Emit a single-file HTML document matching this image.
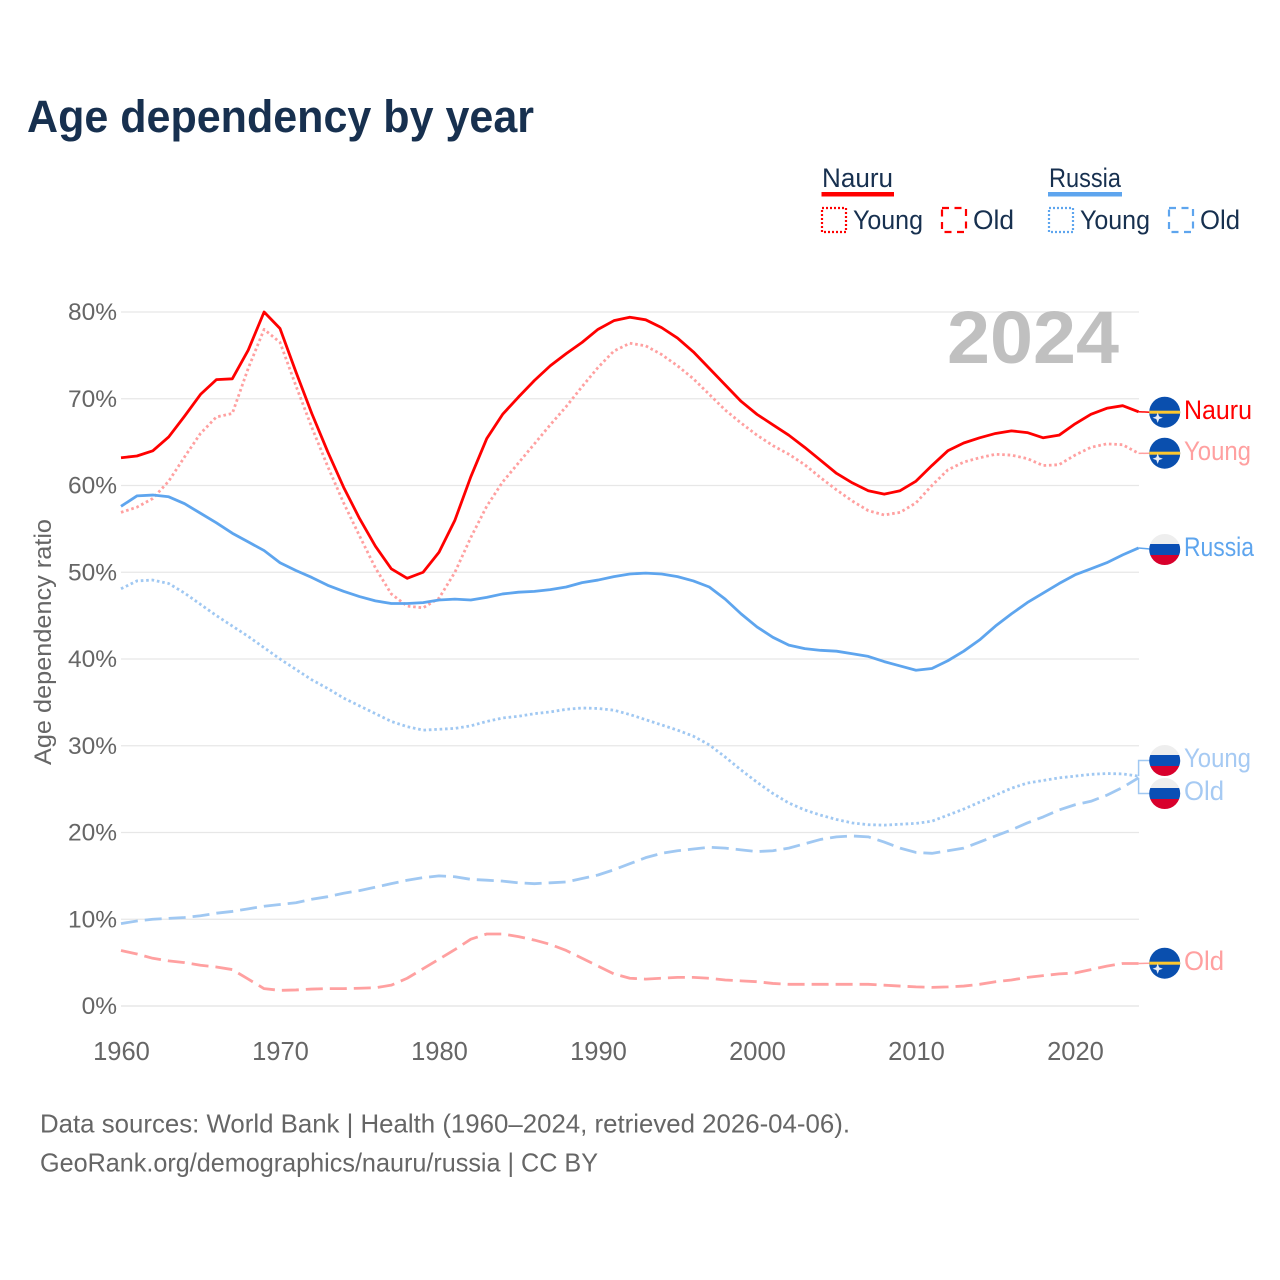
<!DOCTYPE html>
<html lang="en">
<head>
<meta charset="utf-8">
<title>Age dependency by year</title>
<style>
html,body{margin:0;padding:0;background:#fff}
svg{display:block}
text{font-family:"Liberation Sans",sans-serif}
</style>
</head>
<body>
<svg id="chart" width="1280" height="1280" viewBox="0 0 1280 1280" xmlns="http://www.w3.org/2000/svg">
<defs>
<clipPath id="flag-clip"><circle cx="0" cy="0" r="15.5"/></clipPath>
</defs>
<rect x="0" y="0" width="1280" height="1280" fill="#fff"/>
<text x="27" y="132" font-size="45" font-weight="700" fill="#17304f" textLength="507" lengthAdjust="spacingAndGlyphs">Age dependency by year</text>

<g font-size="27" fill="#17304f">
<text x="822" y="187" textLength="71" lengthAdjust="spacingAndGlyphs">Nauru</text>
<rect x="821.5" y="192" width="72.5" height="4.5" fill="#ff0000"/>
<rect x="822" y="208" width="24" height="24" fill="none" stroke="#ff0000" stroke-width="2.2" stroke-dasharray="2 2"/>
<text x="853" y="229" textLength="70" lengthAdjust="spacingAndGlyphs">Young</text>
<rect x="942" y="208" width="24" height="24" fill="none" stroke="#ff0000" stroke-width="2.2" stroke-dasharray="7 5.5"/>
<text x="973" y="229" textLength="41" lengthAdjust="spacingAndGlyphs">Old</text>
<text x="1049" y="187" textLength="72" lengthAdjust="spacingAndGlyphs">Russia</text>
<rect x="1048" y="192" width="74" height="4.5" fill="#5ea5ee"/>
<rect x="1049" y="208" width="24" height="24" fill="none" stroke="#5ea5ee" stroke-width="2.2" stroke-dasharray="2 2"/>
<text x="1080" y="229" textLength="70" lengthAdjust="spacingAndGlyphs">Young</text>
<rect x="1169" y="208" width="24" height="24" fill="none" stroke="#5ea5ee" stroke-width="2.2" stroke-dasharray="7 5.5"/>
<text x="1200" y="229" textLength="40" lengthAdjust="spacingAndGlyphs">Old</text>
</g>

<g id="grid"></g>
<g id="yticks"></g>
<g id="xticks"></g>
<text transform="translate(51,765) rotate(-90)" x="0" y="0" font-size="24" fill="#666" textLength="246" lengthAdjust="spacingAndGlyphs">Age dependency ratio</text>
<text x="947" y="363" font-size="74" font-weight="700" fill="#c0c0c0" textLength="172" lengthAdjust="spacingAndGlyphs">2024</text>

<g id="series"></g>
<g id="leaders"></g>

<g>
<g transform="translate(1164.7,412.2)" clip-path="url(#flag-clip)"><rect x="-16" y="-16" width="32" height="32" fill="#0a4fae"/><rect x="-16" y="-1.5" width="32" height="3" fill="#fdc82f"/><polygon points="-7,1.8 -6,4.5 -3.3,5.5 -6,6.5 -7,9.2 -8,6.5 -10.7,5.5 -8,4.5" fill="#e6ebf5" stroke="#e6ebf5" stroke-width="1"/></g>
<g transform="translate(1164.7,453.2)" clip-path="url(#flag-clip)"><rect x="-16" y="-16" width="32" height="32" fill="#0a4fae"/><rect x="-16" y="-1.5" width="32" height="3" fill="#fdc82f"/><polygon points="-7,1.8 -6,4.5 -3.3,5.5 -6,6.5 -7,9.2 -8,6.5 -10.7,5.5 -8,4.5" fill="#e6ebf5" stroke="#e6ebf5" stroke-width="1"/></g>
<g transform="translate(1164.7,963.2)" clip-path="url(#flag-clip)"><rect x="-16" y="-16" width="32" height="32" fill="#0a4fae"/><rect x="-16" y="-1.5" width="32" height="3" fill="#fdc82f"/><polygon points="-7,1.8 -6,4.5 -3.3,5.5 -6,6.5 -7,9.2 -8,6.5 -10.7,5.5 -8,4.5" fill="#e6ebf5" stroke="#e6ebf5" stroke-width="1"/></g>
<g transform="translate(1164.7,549.5)" clip-path="url(#flag-clip)"><rect x="-16" y="-16" width="32" height="32" fill="#eeeeee"/><rect x="-16" y="-5.5" width="32" height="11" fill="#0a4fb5"/><rect x="-16" y="5.5" width="32" height="11" fill="#d8002c"/></g>
<g transform="translate(1164.7,760.5)" clip-path="url(#flag-clip)"><rect x="-16" y="-16" width="32" height="32" fill="#eeeeee"/><rect x="-16" y="-5.5" width="32" height="11" fill="#0a4fb5"/><rect x="-16" y="5.5" width="32" height="11" fill="#d8002c"/></g>
<g transform="translate(1164.7,793.5)" clip-path="url(#flag-clip)"><rect x="-16" y="-16" width="32" height="32" fill="#eeeeee"/><rect x="-16" y="-5.5" width="32" height="11" fill="#0a4fb5"/><rect x="-16" y="5.5" width="32" height="11" fill="#d8002c"/></g>
</g>

<g font-size="27">
<text x="1184" y="419" fill="#ff0000" textLength="68" lengthAdjust="spacingAndGlyphs">Nauru</text>
<text x="1184" y="460" fill="#ffa0a0" textLength="67" lengthAdjust="spacingAndGlyphs">Young</text>
<text x="1184" y="556" fill="#5ea5ee" textLength="70" lengthAdjust="spacingAndGlyphs">Russia</text>
<text x="1184" y="767" fill="#a6caf3" textLength="67" lengthAdjust="spacingAndGlyphs">Young</text>
<text x="1184" y="800" fill="#a6caf3" textLength="40" lengthAdjust="spacingAndGlyphs">Old</text>
<text x="1184" y="970" fill="#ffa0a0" textLength="40" lengthAdjust="spacingAndGlyphs">Old</text>
</g>

<g font-size="26" fill="#666">
<text x="40" y="1132.5" textLength="810" lengthAdjust="spacingAndGlyphs">Data sources: World Bank | Health (1960–2024, retrieved 2026-04-06).</text>
<text x="40" y="1171.5" textLength="558" lengthAdjust="spacingAndGlyphs">GeoRank.org/demographics/nauru/russia | CC BY</text>
</g>
</svg>

<script>
const firstYear = 1960;
const xTickYears = [1960, 1970, 1980, 1990, 2000, 2010, 2020];
const yTickValues = [0, 10, 20, 30, 40, 50, 60, 70, 80];

const nauruTotal = [
  63.2, 63.4, 64.0, 65.6, 68.0, 70.5, 72.2, 72.3, 75.6, 80.0,
  78.1, 73.1, 68.3, 63.9, 59.8, 56.2, 53.0, 50.4, 49.3, 50.0,
  52.3, 56.0, 61.0, 65.4, 68.2, 70.2, 72.1, 73.8, 75.2, 76.5,
  78.0, 79.0, 79.4, 79.1, 78.2, 77.0, 75.4, 73.5, 71.6, 69.7,
  68.2, 67.0, 65.8, 64.4, 62.9, 61.4, 60.3, 59.4, 59.0, 59.4,
  60.5, 62.3, 64.0, 64.9, 65.5, 66.0, 66.3, 66.1, 65.5, 65.8,
  67.1, 68.2, 68.9, 69.2, 68.5
];
const nauruYoung = [
  56.9, 57.5, 58.5, 60.5, 63.3, 66.0, 67.9, 68.3, 73.5, 78.0,
  76.5, 71.5, 66.7, 62.2, 58.0, 54.2, 50.5, 47.5, 46.1, 45.9,
  47.0, 50.0, 54.0, 57.6, 60.4, 62.6, 64.8, 67.0, 69.1, 71.4,
  73.6, 75.5, 76.4, 76.1, 75.1, 73.8, 72.3, 70.5, 68.7, 67.2,
  65.8, 64.6, 63.6, 62.4, 60.9, 59.5, 58.2, 57.1, 56.6, 56.9,
  58.0, 60.0, 61.8, 62.7, 63.2, 63.6, 63.5, 63.1, 62.3, 62.4,
  63.5, 64.4, 64.8, 64.7, 63.7
];
const nauruOld = [
  6.4, 6.0, 5.5, 5.2, 5.0, 4.7, 4.5, 4.2, 3.1, 2.0,
  1.8, 1.85, 1.95, 2.0, 2.0, 2.05, 2.1, 2.4, 3.2, 4.3,
  5.4, 6.5, 7.7, 8.3, 8.3, 8.0, 7.6, 7.1, 6.4, 5.5,
  4.6, 3.7, 3.2, 3.1, 3.2, 3.3, 3.3, 3.2, 3.0, 2.9,
  2.8, 2.6, 2.5, 2.5, 2.5, 2.5, 2.5, 2.5, 2.4, 2.3,
  2.2, 2.15, 2.2, 2.3, 2.5, 2.8, 3.0, 3.3, 3.5, 3.7,
  3.8, 4.2, 4.6, 4.9, 4.9
];
const russiaTotal = [
  57.6, 58.8, 58.9, 58.7, 57.9, 56.8, 55.7, 54.5, 53.5, 52.5,
  51.1, 50.2, 49.4, 48.5, 47.8, 47.2, 46.7, 46.4, 46.4, 46.5,
  46.8, 46.9, 46.8, 47.1, 47.5, 47.7, 47.8, 48.0, 48.3, 48.8,
  49.1, 49.5, 49.8, 49.9, 49.8, 49.5, 49.0, 48.3, 46.9, 45.2,
  43.7, 42.5, 41.6, 41.2, 41.0, 40.9, 40.6, 40.3, 39.7, 39.2,
  38.7, 38.9, 39.8, 40.9, 42.2, 43.8, 45.2, 46.5, 47.6, 48.7,
  49.7, 50.4, 51.1, 52.0, 52.8
];
const russiaYoung = [
  48.1, 49.0, 49.1, 48.7, 47.6, 46.3, 45.0, 43.8, 42.6, 41.3,
  40.0, 38.8, 37.6, 36.6, 35.5, 34.6, 33.7, 32.8, 32.2, 31.8,
  31.9, 32.0, 32.3, 32.8, 33.2, 33.4, 33.7, 33.9, 34.2, 34.35,
  34.3, 34.1, 33.6, 33.0, 32.4, 31.8, 31.1, 30.1, 28.7, 27.2,
  25.8, 24.5, 23.4, 22.6, 22.0, 21.5, 21.1, 20.9, 20.85, 20.95,
  21.05, 21.3, 22.0, 22.7, 23.5, 24.3, 25.1, 25.7, 26.0, 26.3,
  26.5, 26.7, 26.8, 26.75, 26.5
];
const russiaOld = [
  9.5, 9.8, 10.0, 10.1, 10.2, 10.4, 10.7, 10.9, 11.2, 11.5,
  11.7, 11.9, 12.3, 12.6, 13.0, 13.3, 13.7, 14.1, 14.5, 14.8,
  15.0, 14.9, 14.6, 14.5, 14.4, 14.2, 14.1, 14.2, 14.3, 14.7,
  15.1, 15.7, 16.4, 17.1, 17.6, 17.9, 18.1, 18.3, 18.2, 18.0,
  17.8, 17.9, 18.2, 18.7, 19.2, 19.5, 19.6, 19.5, 18.9, 18.2,
  17.7, 17.6, 17.9, 18.2, 18.9, 19.6, 20.3, 21.1, 21.8, 22.6,
  23.2, 23.6, 24.3, 25.2, 26.3
];

const NS = 'http://www.w3.org/2000/svg';
function xScale(year) { return 121 + (year - 1960) * 15.9; }
function yScale(value) { return 1006 - value * 8.675; }

function linePath(values) {
  return values.map(function (v, i) {
    return (i ? 'L' : 'M') + xScale(firstYear + i).toFixed(2) + ' ' + yScale(v).toFixed(2);
  }).join(' ');
}

const grid = document.getElementById('grid');
const yticks = document.getElementById('yticks');
yTickValues.forEach(function (v) {
  const gl = document.createElementNS(NS, 'line');
  
  
  gl.setAttribute('x1', 121);
  gl.setAttribute('x2', 1139);
  gl.setAttribute('y1', yScale(v));
  gl.setAttribute('y2', yScale(v));
  gl.setAttribute('stroke', '#e7e7e7');
  gl.setAttribute('stroke-width', v === 0 ? 1.6 : 1.2);
  grid.appendChild(gl);

  const t = document.createElementNS(NS, 'text');
  
  
  t.setAttribute('x', 117);
  t.setAttribute('y', yScale(v) + 8);
  t.setAttribute('text-anchor', 'end');
  t.setAttribute('font-size', '24.5');
  t.setAttribute('fill', '#666');
  t.textContent = v + '%';
  yticks.appendChild(t);
});

const xticks = document.getElementById('xticks');
xTickYears.forEach(function (yr) {
  const t = document.createElementNS(NS, 'text');
  
  
  t.setAttribute('x', xScale(yr) + 0.5);
  t.setAttribute('y', 1060);
  t.setAttribute('text-anchor', 'middle');
  t.setAttribute('font-size', '25.5');
  t.setAttribute('fill', '#666');
  t.textContent = yr;
  xticks.appendChild(t);
});

const seriesGroup = document.getElementById('series');
function drawSeries(name, values, color, width, dash) {
  const p = document.createElementNS(NS, 'path');
  
  
  p.setAttribute('d', linePath(values));
  p.setAttribute('fill', 'none');
  p.setAttribute('stroke', color);
  p.setAttribute('stroke-width', width);
  p.setAttribute('stroke-linejoin', 'round');
  if (dash) p.setAttribute('stroke-dasharray', dash);
  seriesGroup.appendChild(p);
}
drawSeries('line-nauru-old', nauruOld, '#ffa0a0', 2.8, '17 7');
drawSeries('line-russia-old', russiaOld, '#a0c8f2', 2.8, '17 7');
drawSeries('line-russia-young', russiaYoung, '#a0c8f2', 2.8, '2.6 2.8');
drawSeries('line-nauru-young', nauruYoung, '#ffa0a0', 2.8, '2.6 2.8');
drawSeries('line-russia-total', russiaTotal, '#5ea5ee', 2.8, null);
drawSeries('line-nauru-total', nauruTotal, '#ff0000', 2.8, null);

const leaders = document.getElementById('leaders');
function drawLeader(name, d, color) {
  const p = document.createElementNS(NS, 'path');
  
  
  p.setAttribute('d', d);
  p.setAttribute('fill', 'none');
  p.setAttribute('stroke', color);
  p.setAttribute('stroke-width', 1.5);
  leaders.appendChild(p);
}
const endX = xScale(2024);
function lastY(values) { return yScale(values[values.length - 1]); }
drawLeader('leader-nauru-total', 'M' + endX + ' ' + lastY(nauruTotal) + ' L1150 412.2', '#ff0000');
drawLeader('leader-nauru-young', 'M' + endX + ' ' + lastY(nauruYoung) + ' L1150 453.2', '#ffa0a0');
drawLeader('leader-nauru-old', 'M' + endX + ' ' + lastY(nauruOld) + ' L1150 963.2', '#ffa0a0');
drawLeader('leader-russia-total', 'M' + endX + ' ' + lastY(russiaTotal) + ' L1150 549', '#5ea5ee');
drawLeader('leader-russia-young', 'M' + endX + ' ' + lastY(russiaYoung) + ' V760.5 H1150', '#a0c8f2');
drawLeader('leader-russia-old', 'M' + endX + ' ' + lastY(russiaOld) + ' V793.5 H1150', '#a0c8f2');
</script>
</body>
</html>
